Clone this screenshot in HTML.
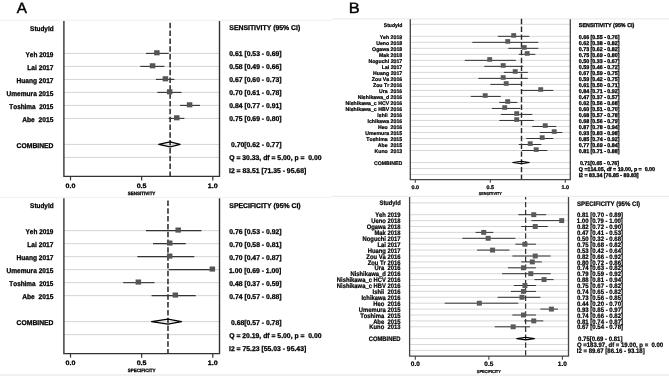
<!DOCTYPE html>
<html><head><meta charset="utf-8"><style>
html,body{margin:0;padding:0;background:#fff;}
svg{display:block;will-change:transform;}
text{font-family:"Liberation Sans",sans-serif;white-space:pre;font-kerning:none;font-variant-ligatures:none;text-rendering:geometricPrecision;}
text.b{font-weight:bold;}
text.r{font-weight:normal;}
</style></head><body>
<svg width="669" height="376" viewBox="0 0 669 376">
<rect x="0" y="0" width="669" height="376" fill="#fff"/>
<line x1="0.00" y1="20.30" x2="332.00" y2="20.30" stroke="#f0f0f0" stroke-width="1" />
<line x1="0.00" y1="197.40" x2="332.00" y2="197.40" stroke="#f0f0f0" stroke-width="1" />
<line x1="332.00" y1="18.80" x2="669.00" y2="18.80" stroke="#ececec" stroke-width="1.2" />
<line x1="332.00" y1="196.40" x2="669.00" y2="196.40" stroke="#ececec" stroke-width="1.2" />
<rect x="0" y="374" width="669" height="2" fill="#f1f1f1"/>
<text class="r" transform="translate(16.87,12.90) scale(0.30600,0.30200)" style="font-size:50px" fill="#000" stroke="#000" stroke-width="1.490">A</text>
<text class="r" transform="translate(348.75,12.80) scale(0.32800,0.30200)" style="font-size:50px" fill="#000" stroke="#000" stroke-width="1.490">B</text>
<line x1="63.90" y1="53.40" x2="219.50" y2="53.40" stroke="#d4d4d4" stroke-width="1.0" />
<line x1="63.90" y1="66.40" x2="219.50" y2="66.40" stroke="#d4d4d4" stroke-width="1.0" />
<line x1="63.90" y1="79.40" x2="219.50" y2="79.40" stroke="#d4d4d4" stroke-width="1.0" />
<line x1="63.90" y1="92.40" x2="219.50" y2="92.40" stroke="#d4d4d4" stroke-width="1.0" />
<line x1="63.90" y1="105.40" x2="219.50" y2="105.40" stroke="#d4d4d4" stroke-width="1.0" />
<line x1="63.90" y1="118.40" x2="219.50" y2="118.40" stroke="#d4d4d4" stroke-width="1.0" />
<line x1="63.90" y1="144.40" x2="219.50" y2="144.40" stroke="#d4d4d4" stroke-width="1.0" />
<line x1="63.90" y1="157.40" x2="219.50" y2="157.40" stroke="#d4d4d4" stroke-width="1.0" />
<line x1="170.11" y1="22.80" x2="170.11" y2="176.40" stroke="#262626" stroke-width="1.5" stroke-dasharray="5.5,2.32" stroke-dashoffset="0"/>
<line x1="145.92" y1="53.40" x2="168.69" y2="53.40" stroke="#333" stroke-width="1.1" />
<line x1="140.23" y1="66.40" x2="164.42" y2="66.40" stroke="#333" stroke-width="1.1" />
<line x1="155.88" y1="79.40" x2="174.38" y2="79.40" stroke="#333" stroke-width="1.1" />
<line x1="157.30" y1="92.40" x2="181.49" y2="92.40" stroke="#333" stroke-width="1.1" />
<line x1="180.07" y1="105.40" x2="199.99" y2="105.40" stroke="#333" stroke-width="1.1" />
<line x1="168.69" y1="118.40" x2="184.34" y2="118.40" stroke="#333" stroke-width="1.1" />
<rect x="154.10" y="50.25" width="5.5" height="5.1" fill="#555"/>
<rect x="149.83" y="63.25" width="5.5" height="5.1" fill="#555"/>
<rect x="162.64" y="76.25" width="5.5" height="5.1" fill="#555"/>
<rect x="166.91" y="89.25" width="5.5" height="5.1" fill="#555"/>
<rect x="186.83" y="102.25" width="5.5" height="5.1" fill="#555"/>
<rect x="174.03" y="115.25" width="5.5" height="5.1" fill="#555"/>
<polygon points="158.73,144.40 170.11,141.95 180.07,144.40 170.11,146.85" fill="none" stroke="#000" stroke-width="1.3" stroke-linejoin="round"/>
<path d="M63.9,21 V176.4 H219.5 V21" fill="none" stroke="#333" stroke-width="1.4"/>
<line x1="70.50" y1="176.40" x2="70.50" y2="180.40" stroke="#333" stroke-width="1.2" />
<text class="b" transform="translate(65.57,188.10) scale(0.14200,0.12800)" style="font-size:50px" fill="#000" stroke="#000" stroke-width="2.188">0.0</text>
<line x1="141.65" y1="176.40" x2="141.65" y2="180.40" stroke="#333" stroke-width="1.2" />
<text class="b" transform="translate(136.67,188.10) scale(0.14200,0.12800)" style="font-size:50px" fill="#000" stroke="#000" stroke-width="2.188">0.5</text>
<line x1="212.80" y1="176.40" x2="212.80" y2="180.40" stroke="#333" stroke-width="1.2" />
<text class="b" transform="translate(207.79,188.10) scale(0.14200,0.12800)" style="font-size:50px" fill="#000" stroke="#000" stroke-width="2.188">1.0</text>
<text class="b" transform="translate(127.87,194.80) scale(0.09000,0.09400)" style="font-size:50px" fill="#000" stroke="#000" stroke-width="2.979">SENSITIVITY</text>
<text class="b" transform="translate(30.12,30.50) scale(0.12823,0.14000)" style="font-size:50px" fill="#000" stroke="#000" stroke-width="2.000">StudyId</text>
<text class="b" transform="translate(25.59,56.50) scale(0.12844,0.14000)" style="font-size:50px" fill="#000" stroke="#000" stroke-width="2.000">Yeh 2019</text>
<text class="b" transform="translate(27.26,69.50) scale(0.13294,0.14000)" style="font-size:50px" fill="#000" stroke="#000" stroke-width="2.000">Lai 2017</text>
<text class="b" transform="translate(16.56,82.50) scale(0.13158,0.14000)" style="font-size:50px" fill="#000" stroke="#000" stroke-width="2.000">Huang 2017</text>
<text class="b" transform="translate(6.40,95.50) scale(0.13206,0.14000)" style="font-size:50px" fill="#000" stroke="#000" stroke-width="2.000">Umemura 2015</text>
<text class="b" transform="translate(9.33,108.50) scale(0.12783,0.14000)" style="font-size:50px" fill="#000" stroke="#000" stroke-width="2.000">Toshima  2015</text>
<text class="b" transform="translate(22.23,121.50) scale(0.13343,0.14000)" style="font-size:50px" fill="#000" stroke="#000" stroke-width="2.000">Abe  2015</text>
<text class="b" transform="translate(16.62,147.50) scale(0.13541,0.14000)" style="font-size:50px" fill="#000" stroke="#000" stroke-width="2.000">COMBINED</text>
<text class="b" transform="translate(229.30,30.35) scale(0.13727,0.14000)" style="font-size:50px" fill="#000" stroke="#000" stroke-width="2.000">SENSITIVITY (95% CI)</text>
<text class="b" transform="translate(229.23,56.35) scale(0.13640,0.14000)" style="font-size:50px" fill="#000" stroke="#000" stroke-width="2.000">0.61 [0.53 - 0.69]</text>
<text class="b" transform="translate(229.23,69.35) scale(0.13640,0.14000)" style="font-size:50px" fill="#000" stroke="#000" stroke-width="2.000">0.58 [0.49 - 0.66]</text>
<text class="b" transform="translate(229.23,82.35) scale(0.13640,0.14000)" style="font-size:50px" fill="#000" stroke="#000" stroke-width="2.000">0.67 [0.60 - 0.73]</text>
<text class="b" transform="translate(229.23,95.35) scale(0.13640,0.14000)" style="font-size:50px" fill="#000" stroke="#000" stroke-width="2.000">0.70 [0.61 - 0.78]</text>
<text class="b" transform="translate(229.23,108.35) scale(0.13640,0.14000)" style="font-size:50px" fill="#000" stroke="#000" stroke-width="2.000">0.84 [0.77 - 0.91]</text>
<text class="b" transform="translate(229.23,121.35) scale(0.13640,0.14000)" style="font-size:50px" fill="#000" stroke="#000" stroke-width="2.000">0.75 [0.69 - 0.80]</text>
<text class="b" transform="translate(231.03,147.35) scale(0.13640,0.14000)" style="font-size:50px" fill="#000" stroke="#000" stroke-width="2.000">0.70[0.62 - 0.77]</text>
<text class="b" transform="translate(229.22,160.35) scale(0.13640,0.14000)" style="font-size:50px" fill="#000" stroke="#000" stroke-width="2.000">Q = 30.33, df = 5.00, p =  0.00</text>
<text class="b" transform="translate(229.04,173.35) scale(0.13640,0.14000)" style="font-size:50px" fill="#000" stroke="#000" stroke-width="2.000">I2 = 83.51 [71.35 - 95.68]</text>
<line x1="63.90" y1="230.65" x2="219.50" y2="230.65" stroke="#d4d4d4" stroke-width="1.0" />
<line x1="63.90" y1="243.65" x2="219.50" y2="243.65" stroke="#d4d4d4" stroke-width="1.0" />
<line x1="63.90" y1="256.65" x2="219.50" y2="256.65" stroke="#d4d4d4" stroke-width="1.0" />
<line x1="63.90" y1="269.65" x2="219.50" y2="269.65" stroke="#d4d4d4" stroke-width="1.0" />
<line x1="63.90" y1="282.65" x2="219.50" y2="282.65" stroke="#d4d4d4" stroke-width="1.0" />
<line x1="63.90" y1="295.65" x2="219.50" y2="295.65" stroke="#d4d4d4" stroke-width="1.0" />
<line x1="63.90" y1="321.65" x2="219.50" y2="321.65" stroke="#d4d4d4" stroke-width="1.0" />
<line x1="63.90" y1="334.65" x2="219.50" y2="334.65" stroke="#d4d4d4" stroke-width="1.0" />
<line x1="167.98" y1="200.45" x2="167.98" y2="353.65" stroke="#262626" stroke-width="1.5" stroke-dasharray="5.5,2.32" stroke-dashoffset="0"/>
<line x1="145.92" y1="230.65" x2="201.42" y2="230.65" stroke="#333" stroke-width="1.1" />
<line x1="153.03" y1="243.65" x2="185.76" y2="243.65" stroke="#333" stroke-width="1.1" />
<line x1="137.38" y1="256.65" x2="194.30" y2="256.65" stroke="#333" stroke-width="1.1" />
<line x1="168.69" y1="269.65" x2="212.80" y2="269.65" stroke="#333" stroke-width="1.1" />
<line x1="123.15" y1="282.65" x2="154.46" y2="282.65" stroke="#333" stroke-width="1.1" />
<line x1="151.61" y1="295.65" x2="195.72" y2="295.65" stroke="#333" stroke-width="1.1" />
<rect x="175.45" y="227.50" width="5.5" height="5.1" fill="#555"/>
<rect x="166.91" y="240.50" width="5.5" height="5.1" fill="#555"/>
<rect x="166.91" y="253.50" width="5.5" height="5.1" fill="#555"/>
<rect x="209.60" y="266.50" width="5.5" height="5.1" fill="#555"/>
<rect x="135.60" y="279.50" width="5.5" height="5.1" fill="#555"/>
<rect x="172.60" y="292.50" width="5.5" height="5.1" fill="#555"/>
<polygon points="151.61,321.65 167.98,319.20 181.49,321.65 167.98,324.10" fill="none" stroke="#000" stroke-width="1.3" stroke-linejoin="round"/>
<path d="M63.9,198.25 V353.65 H219.5 V198.25" fill="none" stroke="#333" stroke-width="1.4"/>
<line x1="70.50" y1="353.65" x2="70.50" y2="357.65" stroke="#333" stroke-width="1.2" />
<text class="b" transform="translate(65.57,365.35) scale(0.14200,0.12800)" style="font-size:50px" fill="#000" stroke="#000" stroke-width="2.188">0.0</text>
<line x1="141.65" y1="353.65" x2="141.65" y2="357.65" stroke="#333" stroke-width="1.2" />
<text class="b" transform="translate(136.67,365.35) scale(0.14200,0.12800)" style="font-size:50px" fill="#000" stroke="#000" stroke-width="2.188">0.5</text>
<line x1="212.80" y1="353.65" x2="212.80" y2="357.65" stroke="#333" stroke-width="1.2" />
<text class="b" transform="translate(207.79,365.35) scale(0.14200,0.12800)" style="font-size:50px" fill="#000" stroke="#000" stroke-width="2.188">1.0</text>
<text class="b" transform="translate(127.74,372.05) scale(0.09000,0.09400)" style="font-size:50px" fill="#000" stroke="#000" stroke-width="2.979">SPECIFICITY</text>
<text class="b" transform="translate(30.12,207.75) scale(0.12823,0.14000)" style="font-size:50px" fill="#000" stroke="#000" stroke-width="2.000">StudyId</text>
<text class="b" transform="translate(25.59,233.75) scale(0.12844,0.14000)" style="font-size:50px" fill="#000" stroke="#000" stroke-width="2.000">Yeh 2019</text>
<text class="b" transform="translate(27.26,246.75) scale(0.13294,0.14000)" style="font-size:50px" fill="#000" stroke="#000" stroke-width="2.000">Lai 2017</text>
<text class="b" transform="translate(16.56,259.75) scale(0.13158,0.14000)" style="font-size:50px" fill="#000" stroke="#000" stroke-width="2.000">Huang 2017</text>
<text class="b" transform="translate(6.40,272.75) scale(0.13206,0.14000)" style="font-size:50px" fill="#000" stroke="#000" stroke-width="2.000">Umemura 2015</text>
<text class="b" transform="translate(9.33,285.75) scale(0.12783,0.14000)" style="font-size:50px" fill="#000" stroke="#000" stroke-width="2.000">Toshima  2015</text>
<text class="b" transform="translate(22.23,298.75) scale(0.13343,0.14000)" style="font-size:50px" fill="#000" stroke="#000" stroke-width="2.000">Abe  2015</text>
<text class="b" transform="translate(16.62,324.75) scale(0.13541,0.14000)" style="font-size:50px" fill="#000" stroke="#000" stroke-width="2.000">COMBINED</text>
<text class="b" transform="translate(229.30,207.60) scale(0.13732,0.14000)" style="font-size:50px" fill="#000" stroke="#000" stroke-width="2.000">SPECIFICITY (95% CI)</text>
<text class="b" transform="translate(229.23,233.60) scale(0.13640,0.14000)" style="font-size:50px" fill="#000" stroke="#000" stroke-width="2.000">0.76 [0.53 - 0.92]</text>
<text class="b" transform="translate(229.23,246.60) scale(0.13640,0.14000)" style="font-size:50px" fill="#000" stroke="#000" stroke-width="2.000">0.70 [0.58 - 0.81]</text>
<text class="b" transform="translate(229.23,259.60) scale(0.13640,0.14000)" style="font-size:50px" fill="#000" stroke="#000" stroke-width="2.000">0.70 [0.47 - 0.87]</text>
<text class="b" transform="translate(229.07,272.60) scale(0.13640,0.14000)" style="font-size:50px" fill="#000" stroke="#000" stroke-width="2.000">1.00 [0.69 - 1.00]</text>
<text class="b" transform="translate(229.23,285.60) scale(0.13640,0.14000)" style="font-size:50px" fill="#000" stroke="#000" stroke-width="2.000">0.48 [0.37 - 0.59]</text>
<text class="b" transform="translate(229.23,298.60) scale(0.13640,0.14000)" style="font-size:50px" fill="#000" stroke="#000" stroke-width="2.000">0.74 [0.57 - 0.88]</text>
<text class="b" transform="translate(231.03,324.60) scale(0.13640,0.14000)" style="font-size:50px" fill="#000" stroke="#000" stroke-width="2.000">0.68[0.57 - 0.78]</text>
<text class="b" transform="translate(229.22,337.60) scale(0.13640,0.14000)" style="font-size:50px" fill="#000" stroke="#000" stroke-width="2.000">Q = 20.19, df = 5.00, p =  0.00</text>
<text class="b" transform="translate(229.04,350.60) scale(0.13640,0.14000)" style="font-size:50px" fill="#000" stroke="#000" stroke-width="2.000">I2 = 75.23 [55.03 - 95.43]</text>
<line x1="410.30" y1="24.30" x2="570.30" y2="24.30" stroke="#d4d4d4" stroke-width="0.9" />
<line x1="410.30" y1="36.32" x2="570.30" y2="36.32" stroke="#d4d4d4" stroke-width="0.9" />
<line x1="410.30" y1="42.33" x2="570.30" y2="42.33" stroke="#d4d4d4" stroke-width="0.9" />
<line x1="410.30" y1="48.34" x2="570.30" y2="48.34" stroke="#d4d4d4" stroke-width="0.9" />
<line x1="410.30" y1="54.35" x2="570.30" y2="54.35" stroke="#d4d4d4" stroke-width="0.9" />
<line x1="410.30" y1="60.36" x2="570.30" y2="60.36" stroke="#d4d4d4" stroke-width="0.9" />
<line x1="410.30" y1="66.37" x2="570.30" y2="66.37" stroke="#d4d4d4" stroke-width="0.9" />
<line x1="410.30" y1="72.38" x2="570.30" y2="72.38" stroke="#d4d4d4" stroke-width="0.9" />
<line x1="410.30" y1="78.39" x2="570.30" y2="78.39" stroke="#d4d4d4" stroke-width="0.9" />
<line x1="410.30" y1="84.40" x2="570.30" y2="84.40" stroke="#d4d4d4" stroke-width="0.9" />
<line x1="410.30" y1="90.41" x2="570.30" y2="90.41" stroke="#d4d4d4" stroke-width="0.9" />
<line x1="410.30" y1="96.42" x2="570.30" y2="96.42" stroke="#d4d4d4" stroke-width="0.9" />
<line x1="410.30" y1="102.43" x2="570.30" y2="102.43" stroke="#d4d4d4" stroke-width="0.9" />
<line x1="410.30" y1="108.44" x2="570.30" y2="108.44" stroke="#d4d4d4" stroke-width="0.9" />
<line x1="410.30" y1="114.45" x2="570.30" y2="114.45" stroke="#d4d4d4" stroke-width="0.9" />
<line x1="410.30" y1="120.46" x2="570.30" y2="120.46" stroke="#d4d4d4" stroke-width="0.9" />
<line x1="410.30" y1="126.47" x2="570.30" y2="126.47" stroke="#d4d4d4" stroke-width="0.9" />
<line x1="410.30" y1="132.48" x2="570.30" y2="132.48" stroke="#d4d4d4" stroke-width="0.9" />
<line x1="410.30" y1="138.49" x2="570.30" y2="138.49" stroke="#d4d4d4" stroke-width="0.9" />
<line x1="410.30" y1="144.50" x2="570.30" y2="144.50" stroke="#d4d4d4" stroke-width="0.9" />
<line x1="410.30" y1="150.51" x2="570.30" y2="150.51" stroke="#d4d4d4" stroke-width="0.9" />
<line x1="410.30" y1="162.53" x2="570.30" y2="162.53" stroke="#d4d4d4" stroke-width="0.9" />
<line x1="410.30" y1="168.54" x2="570.30" y2="168.54" stroke="#d4d4d4" stroke-width="0.9" />
<line x1="410.30" y1="174.55" x2="570.30" y2="174.55" stroke="#d4d4d4" stroke-width="0.9" />
<line x1="521.50" y1="18.80" x2="521.50" y2="179.60" stroke="#262626" stroke-width="1.4" stroke-dasharray="5.35,2.45" stroke-dashoffset="0"/>
<line x1="497.80" y1="36.32" x2="529.30" y2="36.32" stroke="#333" stroke-width="1.0" />
<line x1="472.30" y1="42.33" x2="538.30" y2="42.33" stroke="#333" stroke-width="1.0" />
<line x1="508.30" y1="48.34" x2="538.30" y2="48.34" stroke="#333" stroke-width="1.0" />
<line x1="518.80" y1="54.35" x2="535.30" y2="54.35" stroke="#333" stroke-width="1.0" />
<line x1="464.80" y1="60.36" x2="515.80" y2="60.36" stroke="#333" stroke-width="1.0" />
<line x1="484.30" y1="66.37" x2="523.30" y2="66.37" stroke="#333" stroke-width="1.0" />
<line x1="503.80" y1="72.38" x2="527.80" y2="72.38" stroke="#333" stroke-width="1.0" />
<line x1="478.30" y1="78.39" x2="527.80" y2="78.39" stroke="#333" stroke-width="1.0" />
<line x1="490.30" y1="84.40" x2="521.80" y2="84.40" stroke="#333" stroke-width="1.0" />
<line x1="521.80" y1="90.41" x2="553.30" y2="90.41" stroke="#333" stroke-width="1.0" />
<line x1="470.80" y1="96.42" x2="500.80" y2="96.42" stroke="#333" stroke-width="1.0" />
<line x1="499.30" y1="102.43" x2="517.30" y2="102.43" stroke="#333" stroke-width="1.0" />
<line x1="491.80" y1="108.44" x2="520.30" y2="108.44" stroke="#333" stroke-width="1.0" />
<line x1="500.80" y1="114.45" x2="532.30" y2="114.45" stroke="#333" stroke-width="1.0" />
<line x1="499.30" y1="120.46" x2="533.80" y2="120.46" stroke="#333" stroke-width="1.0" />
<line x1="532.30" y1="126.47" x2="556.30" y2="126.47" stroke="#333" stroke-width="1.0" />
<line x1="539.80" y1="132.48" x2="562.30" y2="132.48" stroke="#333" stroke-width="1.0" />
<line x1="526.30" y1="138.49" x2="553.30" y2="138.49" stroke="#333" stroke-width="1.0" />
<line x1="518.80" y1="144.50" x2="541.30" y2="144.50" stroke="#333" stroke-width="1.0" />
<line x1="521.80" y1="150.51" x2="547.30" y2="150.51" stroke="#333" stroke-width="1.0" />
<rect x="511.25" y="33.12" width="4.9" height="4.6" fill="#5a5a5a"/>
<rect x="505.25" y="39.13" width="4.9" height="4.6" fill="#5a5a5a"/>
<rect x="521.75" y="45.14" width="4.9" height="4.6" fill="#5a5a5a"/>
<rect x="524.75" y="51.15" width="4.9" height="4.6" fill="#5a5a5a"/>
<rect x="487.25" y="57.16" width="4.9" height="4.6" fill="#5a5a5a"/>
<rect x="500.75" y="63.17" width="4.9" height="4.6" fill="#5a5a5a"/>
<rect x="512.75" y="69.18" width="4.9" height="4.6" fill="#5a5a5a"/>
<rect x="500.75" y="75.19" width="4.9" height="4.6" fill="#5a5a5a"/>
<rect x="503.75" y="81.20" width="4.9" height="4.6" fill="#5a5a5a"/>
<rect x="538.25" y="87.21" width="4.9" height="4.6" fill="#5a5a5a"/>
<rect x="482.75" y="93.22" width="4.9" height="4.6" fill="#5a5a5a"/>
<rect x="505.25" y="99.23" width="4.9" height="4.6" fill="#5a5a5a"/>
<rect x="502.25" y="105.24" width="4.9" height="4.6" fill="#5a5a5a"/>
<rect x="514.25" y="111.25" width="4.9" height="4.6" fill="#5a5a5a"/>
<rect x="514.25" y="117.26" width="4.9" height="4.6" fill="#5a5a5a"/>
<rect x="542.75" y="123.27" width="4.9" height="4.6" fill="#5a5a5a"/>
<rect x="551.75" y="129.28" width="4.9" height="4.6" fill="#5a5a5a"/>
<rect x="539.75" y="135.29" width="4.9" height="4.6" fill="#5a5a5a"/>
<rect x="527.75" y="141.30" width="4.9" height="4.6" fill="#5a5a5a"/>
<rect x="533.75" y="147.31" width="4.9" height="4.6" fill="#5a5a5a"/>
<polygon points="512.80,162.53 521.50,161.23 529.30,162.53 521.50,163.83" fill="none" stroke="#000" stroke-width="1.1" stroke-linejoin="round"/>
<path d="M410.3,19.2 V179.6 H570.3 V19.2" fill="none" stroke="#454545" stroke-width="1.3"/>
<line x1="415.30" y1="179.60" x2="415.30" y2="182.80" stroke="#454545" stroke-width="1.1" />
<text class="b" transform="translate(411.55,188.90) scale(0.10800,0.10600)" style="font-size:50px" fill="#000" stroke="#000" stroke-width="2.075">0.0</text>
<line x1="490.30" y1="179.60" x2="490.30" y2="182.80" stroke="#454545" stroke-width="1.1" />
<text class="b" transform="translate(486.51,188.90) scale(0.10800,0.10600)" style="font-size:50px" fill="#000" stroke="#000" stroke-width="2.075">0.5</text>
<line x1="565.30" y1="179.60" x2="565.30" y2="182.80" stroke="#454545" stroke-width="1.1" />
<text class="b" transform="translate(561.49,188.90) scale(0.10800,0.10600)" style="font-size:50px" fill="#000" stroke="#000" stroke-width="2.075">1.0</text>
<text class="b" transform="translate(478.78,195.00) scale(0.07520,0.08600)" style="font-size:50px" fill="#000" stroke="#000" stroke-width="2.558">SENSITIVITY</text>
<text class="b" transform="translate(383.75,26.80) scale(0.10135,0.10600)" style="font-size:50px" fill="#000" stroke="#000" stroke-width="2.075">StudyId</text>
<text class="b" transform="translate(379.64,38.82) scale(0.10400,0.10600)" style="font-size:50px" fill="#000" stroke="#000" stroke-width="2.075">Yeh 2019</text>
<text class="b" transform="translate(376.15,44.83) scale(0.10400,0.10600)" style="font-size:50px" fill="#000" stroke="#000" stroke-width="2.075">Ueno 2018</text>
<text class="b" transform="translate(372.10,50.84) scale(0.10400,0.10600)" style="font-size:50px" fill="#000" stroke="#000" stroke-width="2.075">Ogawa 2018</text>
<text class="b" transform="translate(379.03,56.85) scale(0.10400,0.10600)" style="font-size:50px" fill="#000" stroke="#000" stroke-width="2.075">Mak 2018</text>
<text class="b" transform="translate(368.42,62.86) scale(0.10400,0.10600)" style="font-size:50px" fill="#000" stroke="#000" stroke-width="2.075">Noguchi 2017</text>
<text class="b" transform="translate(381.70,68.87) scale(0.10400,0.10600)" style="font-size:50px" fill="#000" stroke="#000" stroke-width="2.075">Lai 2017</text>
<text class="b" transform="translate(373.04,74.88) scale(0.10400,0.10600)" style="font-size:50px" fill="#000" stroke="#000" stroke-width="2.075">Huang 2017</text>
<text class="b" transform="translate(371.84,80.89) scale(0.10400,0.10600)" style="font-size:50px" fill="#000" stroke="#000" stroke-width="2.075">Zou Va 2016</text>
<text class="b" transform="translate(373.00,86.90) scale(0.10400,0.10600)" style="font-size:50px" fill="#000" stroke="#000" stroke-width="2.075">Zou Tr 2016</text>
<text class="b" transform="translate(379.06,92.91) scale(0.10400,0.10600)" style="font-size:50px" fill="#000" stroke="#000" stroke-width="2.075">Ura  2016</text>
<text class="b" transform="translate(357.67,98.92) scale(0.10400,0.10600)" style="font-size:50px" fill="#000" stroke="#000" stroke-width="2.075">Nishikawa_d 2016</text>
<text class="b" transform="translate(345.53,104.93) scale(0.10400,0.10600)" style="font-size:50px" fill="#000" stroke="#000" stroke-width="2.075">Nishikawa_c HCV 2016</text>
<text class="b" transform="translate(345.53,110.94) scale(0.10400,0.10600)" style="font-size:50px" fill="#000" stroke="#000" stroke-width="2.075">Nishikawa_c HBV 2016</text>
<text class="b" transform="translate(377.33,116.95) scale(0.10400,0.10600)" style="font-size:50px" fill="#000" stroke="#000" stroke-width="2.075">Ishii  2016</text>
<text class="b" transform="translate(367.50,122.96) scale(0.10400,0.10600)" style="font-size:50px" fill="#000" stroke="#000" stroke-width="2.075">Ichikawa 2016</text>
<text class="b" transform="translate(377.91,128.97) scale(0.10400,0.10600)" style="font-size:50px" fill="#000" stroke="#000" stroke-width="2.075">Heo  2016</text>
<text class="b" transform="translate(365.15,134.98) scale(0.10400,0.10600)" style="font-size:50px" fill="#000" stroke="#000" stroke-width="2.075">Umemura 2015</text>
<text class="b" transform="translate(366.31,140.99) scale(0.10400,0.10600)" style="font-size:50px" fill="#000" stroke="#000" stroke-width="2.075">Toshima  2015</text>
<text class="b" transform="translate(377.86,147.00) scale(0.10400,0.10600)" style="font-size:50px" fill="#000" stroke="#000" stroke-width="2.075">Abe  2015</text>
<text class="b" transform="translate(374.45,153.01) scale(0.10400,0.10600)" style="font-size:50px" fill="#000" stroke="#000" stroke-width="2.075">Kuno  2013</text>
<text class="b" transform="translate(373.91,165.03) scale(0.10400,0.10600)" style="font-size:50px" fill="#000" stroke="#000" stroke-width="2.075">COMBINED</text>
<text class="b" transform="translate(578.85,27.10) scale(0.10725,0.11200)" style="font-size:50px" fill="#000" stroke="#000" stroke-width="2.679">SENSITIVITY (95% CI)</text>
<text class="b" transform="translate(578.79,39.12) scale(0.10600,0.11000)" style="font-size:50px" fill="#000" stroke="#000" stroke-width="2.727">0.66 [0.55 - 0.76]</text>
<text class="b" transform="translate(578.79,45.13) scale(0.10600,0.11000)" style="font-size:50px" fill="#000" stroke="#000" stroke-width="2.727">0.62 [0.38 - 0.82]</text>
<text class="b" transform="translate(578.79,51.14) scale(0.10600,0.11000)" style="font-size:50px" fill="#000" stroke="#000" stroke-width="2.727">0.73 [0.62 - 0.82]</text>
<text class="b" transform="translate(578.79,57.15) scale(0.10600,0.11000)" style="font-size:50px" fill="#000" stroke="#000" stroke-width="2.727">0.75 [0.69 - 0.80]</text>
<text class="b" transform="translate(578.79,63.16) scale(0.10600,0.11000)" style="font-size:50px" fill="#000" stroke="#000" stroke-width="2.727">0.50 [0.33 - 0.67]</text>
<text class="b" transform="translate(578.79,69.17) scale(0.10600,0.11000)" style="font-size:50px" fill="#000" stroke="#000" stroke-width="2.727">0.59 [0.46 - 0.72]</text>
<text class="b" transform="translate(578.79,75.18) scale(0.10600,0.11000)" style="font-size:50px" fill="#000" stroke="#000" stroke-width="2.727">0.67 [0.59 - 0.75]</text>
<text class="b" transform="translate(578.79,81.19) scale(0.10600,0.11000)" style="font-size:50px" fill="#000" stroke="#000" stroke-width="2.727">0.59 [0.42 - 0.75]</text>
<text class="b" transform="translate(578.79,87.20) scale(0.10600,0.11000)" style="font-size:50px" fill="#000" stroke="#000" stroke-width="2.727">0.61 [0.50 - 0.71]</text>
<text class="b" transform="translate(578.79,93.21) scale(0.10600,0.11000)" style="font-size:50px" fill="#000" stroke="#000" stroke-width="2.727">0.84 [0.71 - 0.92]</text>
<text class="b" transform="translate(578.79,99.22) scale(0.10600,0.11000)" style="font-size:50px" fill="#000" stroke="#000" stroke-width="2.727">0.47 [0.37 - 0.57]</text>
<text class="b" transform="translate(578.79,105.23) scale(0.10600,0.11000)" style="font-size:50px" fill="#000" stroke="#000" stroke-width="2.727">0.62 [0.56 - 0.68]</text>
<text class="b" transform="translate(578.79,111.24) scale(0.10600,0.11000)" style="font-size:50px" fill="#000" stroke="#000" stroke-width="2.727">0.60 [0.51 - 0.70]</text>
<text class="b" transform="translate(578.79,117.25) scale(0.10600,0.11000)" style="font-size:50px" fill="#000" stroke="#000" stroke-width="2.727">0.68 [0.57 - 0.78]</text>
<text class="b" transform="translate(578.79,123.26) scale(0.10600,0.11000)" style="font-size:50px" fill="#000" stroke="#000" stroke-width="2.727">0.68 [0.56 - 0.79]</text>
<text class="b" transform="translate(578.79,129.27) scale(0.10600,0.11000)" style="font-size:50px" fill="#000" stroke="#000" stroke-width="2.727">0.87 [0.78 - 0.94]</text>
<text class="b" transform="translate(578.79,135.28) scale(0.10600,0.11000)" style="font-size:50px" fill="#000" stroke="#000" stroke-width="2.727">0.93 [0.83 - 0.98]</text>
<text class="b" transform="translate(578.79,141.29) scale(0.10600,0.11000)" style="font-size:50px" fill="#000" stroke="#000" stroke-width="2.727">0.85 [0.74 - 0.92]</text>
<text class="b" transform="translate(578.79,147.30) scale(0.10600,0.11000)" style="font-size:50px" fill="#000" stroke="#000" stroke-width="2.727">0.77 [0.69 - 0.84]</text>
<text class="b" transform="translate(578.79,153.31) scale(0.10600,0.11000)" style="font-size:50px" fill="#000" stroke="#000" stroke-width="2.727">0.81 [0.71 - 0.88]</text>
<text class="b" transform="translate(579.89,165.33) scale(0.10600,0.11000)" style="font-size:50px" fill="#000" stroke="#000" stroke-width="2.727">0.71[0.65 - 0.76]</text>
<text class="b" transform="translate(578.78,171.34) scale(0.10600,0.11000)" style="font-size:50px" fill="#000" stroke="#000" stroke-width="2.727">Q =114.05, df = 19.00, p =  0.00</text>
<text class="b" transform="translate(578.65,177.35) scale(0.10600,0.11000)" style="font-size:50px" fill="#000" stroke="#000" stroke-width="2.727">I2 = 83.34 [76.85 - 89.83]</text>
<line x1="409.60" y1="202.90" x2="568.50" y2="202.90" stroke="#d4d4d4" stroke-width="0.9" />
<line x1="409.60" y1="214.70" x2="568.50" y2="214.70" stroke="#d4d4d4" stroke-width="0.9" />
<line x1="409.60" y1="220.60" x2="568.50" y2="220.60" stroke="#d4d4d4" stroke-width="0.9" />
<line x1="409.60" y1="226.50" x2="568.50" y2="226.50" stroke="#d4d4d4" stroke-width="0.9" />
<line x1="409.60" y1="232.40" x2="568.50" y2="232.40" stroke="#d4d4d4" stroke-width="0.9" />
<line x1="409.60" y1="238.30" x2="568.50" y2="238.30" stroke="#d4d4d4" stroke-width="0.9" />
<line x1="409.60" y1="244.20" x2="568.50" y2="244.20" stroke="#d4d4d4" stroke-width="0.9" />
<line x1="409.60" y1="250.10" x2="568.50" y2="250.10" stroke="#d4d4d4" stroke-width="0.9" />
<line x1="409.60" y1="256.00" x2="568.50" y2="256.00" stroke="#d4d4d4" stroke-width="0.9" />
<line x1="409.60" y1="261.90" x2="568.50" y2="261.90" stroke="#d4d4d4" stroke-width="0.9" />
<line x1="409.60" y1="267.80" x2="568.50" y2="267.80" stroke="#d4d4d4" stroke-width="0.9" />
<line x1="409.60" y1="273.70" x2="568.50" y2="273.70" stroke="#d4d4d4" stroke-width="0.9" />
<line x1="409.60" y1="279.60" x2="568.50" y2="279.60" stroke="#d4d4d4" stroke-width="0.9" />
<line x1="409.60" y1="285.50" x2="568.50" y2="285.50" stroke="#d4d4d4" stroke-width="0.9" />
<line x1="409.60" y1="291.40" x2="568.50" y2="291.40" stroke="#d4d4d4" stroke-width="0.9" />
<line x1="409.60" y1="297.30" x2="568.50" y2="297.30" stroke="#d4d4d4" stroke-width="0.9" />
<line x1="409.60" y1="303.20" x2="568.50" y2="303.20" stroke="#d4d4d4" stroke-width="0.9" />
<line x1="409.60" y1="309.10" x2="568.50" y2="309.10" stroke="#d4d4d4" stroke-width="0.9" />
<line x1="409.60" y1="315.00" x2="568.50" y2="315.00" stroke="#d4d4d4" stroke-width="0.9" />
<line x1="409.60" y1="320.90" x2="568.50" y2="320.90" stroke="#d4d4d4" stroke-width="0.9" />
<line x1="409.60" y1="326.80" x2="568.50" y2="326.80" stroke="#d4d4d4" stroke-width="0.9" />
<line x1="409.60" y1="338.60" x2="568.50" y2="338.60" stroke="#d4d4d4" stroke-width="0.9" />
<line x1="409.60" y1="344.50" x2="568.50" y2="344.50" stroke="#d4d4d4" stroke-width="0.9" />
<line x1="409.60" y1="350.40" x2="568.50" y2="350.40" stroke="#d4d4d4" stroke-width="0.9" />
<line x1="525.62" y1="197.00" x2="525.62" y2="356.10" stroke="#333" stroke-width="1.25" stroke-dasharray="5.3,2.5" stroke-dashoffset="2.8"/>
<line x1="518.27" y1="214.70" x2="546.22" y2="214.70" stroke="#333" stroke-width="1.0" />
<line x1="531.51" y1="220.60" x2="562.40" y2="220.60" stroke="#333" stroke-width="1.0" />
<line x1="521.21" y1="226.50" x2="547.69" y2="226.50" stroke="#333" stroke-width="1.0" />
<line x1="475.61" y1="232.40" x2="493.26" y2="232.40" stroke="#333" stroke-width="1.0" />
<line x1="462.37" y1="238.30" x2="515.33" y2="238.30" stroke="#333" stroke-width="1.0" />
<line x1="515.33" y1="244.20" x2="535.92" y2="244.20" stroke="#333" stroke-width="1.0" />
<line x1="477.08" y1="250.10" x2="509.44" y2="250.10" stroke="#333" stroke-width="1.0" />
<line x1="512.39" y1="256.00" x2="550.63" y2="256.00" stroke="#333" stroke-width="1.0" />
<line x1="521.21" y1="261.90" x2="541.81" y2="261.90" stroke="#333" stroke-width="1.0" />
<line x1="507.97" y1="267.80" x2="535.92" y2="267.80" stroke="#333" stroke-width="1.0" />
<line x1="502.09" y1="273.70" x2="550.63" y2="273.70" stroke="#333" stroke-width="1.0" />
<line x1="534.45" y1="279.60" x2="553.57" y2="279.60" stroke="#333" stroke-width="1.0" />
<line x1="513.86" y1="285.50" x2="535.92" y2="285.50" stroke="#333" stroke-width="1.0" />
<line x1="510.91" y1="291.40" x2="535.92" y2="291.40" stroke="#333" stroke-width="1.0" />
<line x1="497.68" y1="297.30" x2="540.34" y2="297.30" stroke="#333" stroke-width="1.0" />
<line x1="444.72" y1="303.20" x2="518.27" y2="303.20" stroke="#333" stroke-width="1.0" />
<line x1="540.34" y1="309.10" x2="557.99" y2="309.10" stroke="#333" stroke-width="1.0" />
<line x1="512.39" y1="315.00" x2="535.92" y2="315.00" stroke="#333" stroke-width="1.0" />
<line x1="524.15" y1="320.90" x2="543.28" y2="320.90" stroke="#333" stroke-width="1.0" />
<line x1="494.73" y1="326.80" x2="530.04" y2="326.80" stroke="#333" stroke-width="1.0" />
<rect x="531.25" y="212.25" width="5.0" height="4.9" fill="#5a5a5a"/>
<rect x="559.20" y="218.15" width="5.0" height="4.9" fill="#5a5a5a"/>
<rect x="532.72" y="224.05" width="5.0" height="4.9" fill="#5a5a5a"/>
<rect x="481.24" y="229.95" width="5.0" height="4.9" fill="#5a5a5a"/>
<rect x="485.65" y="235.85" width="5.0" height="4.9" fill="#5a5a5a"/>
<rect x="522.42" y="241.75" width="5.0" height="4.9" fill="#5a5a5a"/>
<rect x="490.06" y="247.65" width="5.0" height="4.9" fill="#5a5a5a"/>
<rect x="532.72" y="253.55" width="5.0" height="4.9" fill="#5a5a5a"/>
<rect x="529.78" y="259.45" width="5.0" height="4.9" fill="#5a5a5a"/>
<rect x="520.95" y="265.35" width="5.0" height="4.9" fill="#5a5a5a"/>
<rect x="528.31" y="271.25" width="5.0" height="4.9" fill="#5a5a5a"/>
<rect x="541.55" y="277.15" width="5.0" height="4.9" fill="#5a5a5a"/>
<rect x="522.42" y="283.05" width="5.0" height="4.9" fill="#5a5a5a"/>
<rect x="520.95" y="288.95" width="5.0" height="4.9" fill="#5a5a5a"/>
<rect x="519.48" y="294.85" width="5.0" height="4.9" fill="#5a5a5a"/>
<rect x="476.82" y="300.75" width="5.0" height="4.9" fill="#5a5a5a"/>
<rect x="548.90" y="306.65" width="5.0" height="4.9" fill="#5a5a5a"/>
<rect x="520.95" y="312.55" width="5.0" height="4.9" fill="#5a5a5a"/>
<rect x="531.25" y="318.45" width="5.0" height="4.9" fill="#5a5a5a"/>
<rect x="510.66" y="324.35" width="5.0" height="4.9" fill="#5a5a5a"/>
<polygon points="516.80,338.60 525.62,337.30 534.45,338.60 525.62,339.90" fill="none" stroke="#000" stroke-width="1.1" stroke-linejoin="round"/>
<path d="M409.6,197.0 V356.1 H568.5 V197.0" fill="none" stroke="#454545" stroke-width="1.3"/>
<line x1="415.30" y1="356.10" x2="415.30" y2="359.70" stroke="#454545" stroke-width="1.1" />
<text class="b" transform="translate(410.79,366.30) scale(0.13000,0.12600)" style="font-size:50px" fill="#000" stroke="#000" stroke-width="1.746">0.0</text>
<line x1="488.85" y1="356.10" x2="488.85" y2="359.70" stroke="#454545" stroke-width="1.1" />
<text class="b" transform="translate(484.29,366.30) scale(0.13000,0.12600)" style="font-size:50px" fill="#000" stroke="#000" stroke-width="1.746">0.5</text>
<line x1="562.40" y1="356.10" x2="562.40" y2="359.70" stroke="#454545" stroke-width="1.1" />
<text class="b" transform="translate(557.81,366.30) scale(0.13000,0.12600)" style="font-size:50px" fill="#000" stroke="#000" stroke-width="1.746">1.0</text>
<text class="b" transform="translate(476.80,372.90) scale(0.07800,0.08600)" style="font-size:50px" fill="#000" stroke="#000" stroke-width="2.558">SPECIFICITY</text>
<text class="b" transform="translate(379.53,205.30) scale(0.11535,0.13200)" style="font-size:50px" fill="#000" stroke="#000" stroke-width="1.667">StudyId</text>
<text class="b" transform="translate(375.15,217.30) scale(0.11700,0.13200)" style="font-size:50px" fill="#000" stroke="#000" stroke-width="1.667">Yeh 2019</text>
<text class="b" transform="translate(371.22,223.20) scale(0.11700,0.13200)" style="font-size:50px" fill="#000" stroke="#000" stroke-width="1.667">Ueno 2018</text>
<text class="b" transform="translate(366.66,229.10) scale(0.11700,0.13200)" style="font-size:50px" fill="#000" stroke="#000" stroke-width="1.667">Ogawa 2018</text>
<text class="b" transform="translate(374.46,235.00) scale(0.11700,0.13200)" style="font-size:50px" fill="#000" stroke="#000" stroke-width="1.667">Mak 2018</text>
<text class="b" transform="translate(362.52,240.90) scale(0.11700,0.13200)" style="font-size:50px" fill="#000" stroke="#000" stroke-width="1.667">Noguchi 2017</text>
<text class="b" transform="translate(377.47,246.80) scale(0.11700,0.13200)" style="font-size:50px" fill="#000" stroke="#000" stroke-width="1.667">Lai 2017</text>
<text class="b" transform="translate(367.72,252.70) scale(0.11700,0.13200)" style="font-size:50px" fill="#000" stroke="#000" stroke-width="1.667">Huang 2017</text>
<text class="b" transform="translate(366.37,258.60) scale(0.11700,0.13200)" style="font-size:50px" fill="#000" stroke="#000" stroke-width="1.667">Zou Va 2016</text>
<text class="b" transform="translate(367.68,264.50) scale(0.11700,0.13200)" style="font-size:50px" fill="#000" stroke="#000" stroke-width="1.667">Zou Tr 2016</text>
<text class="b" transform="translate(374.49,270.40) scale(0.11700,0.13200)" style="font-size:50px" fill="#000" stroke="#000" stroke-width="1.667">Ura  2016</text>
<text class="b" transform="translate(350.43,276.30) scale(0.11700,0.13200)" style="font-size:50px" fill="#000" stroke="#000" stroke-width="1.667">Nishikawa_d 2016</text>
<text class="b" transform="translate(336.78,282.20) scale(0.11700,0.13200)" style="font-size:50px" fill="#000" stroke="#000" stroke-width="1.667">Nishikawa_c HCV 2016</text>
<text class="b" transform="translate(336.78,288.10) scale(0.11700,0.13200)" style="font-size:50px" fill="#000" stroke="#000" stroke-width="1.667">Nishikawa_c HBV 2016</text>
<text class="b" transform="translate(372.54,294.00) scale(0.11700,0.13200)" style="font-size:50px" fill="#000" stroke="#000" stroke-width="1.667">Ishii  2016</text>
<text class="b" transform="translate(361.48,299.90) scale(0.11700,0.13200)" style="font-size:50px" fill="#000" stroke="#000" stroke-width="1.667">Ichikawa 2016</text>
<text class="b" transform="translate(373.20,305.80) scale(0.11700,0.13200)" style="font-size:50px" fill="#000" stroke="#000" stroke-width="1.667">Heo  2016</text>
<text class="b" transform="translate(358.84,311.70) scale(0.11700,0.13200)" style="font-size:50px" fill="#000" stroke="#000" stroke-width="1.667">Umemura 2015</text>
<text class="b" transform="translate(360.14,317.60) scale(0.11700,0.13200)" style="font-size:50px" fill="#000" stroke="#000" stroke-width="1.667">Toshima  2015</text>
<text class="b" transform="translate(373.15,323.50) scale(0.11700,0.13200)" style="font-size:50px" fill="#000" stroke="#000" stroke-width="1.667">Abe  2015</text>
<text class="b" transform="translate(369.30,329.40) scale(0.11700,0.13200)" style="font-size:50px" fill="#000" stroke="#000" stroke-width="1.667">Kuno  2013</text>
<text class="b" transform="translate(368.70,341.20) scale(0.11700,0.13200)" style="font-size:50px" fill="#000" stroke="#000" stroke-width="1.667">COMBINED</text>
<text class="b" transform="translate(577.03,205.50) scale(0.12141,0.13200)" style="font-size:50px" fill="#000" stroke="#000" stroke-width="1.667">SPECIFICITY (95% CI)</text>
<text class="b" transform="translate(576.96,217.30) scale(0.12000,0.12800)" style="font-size:50px" fill="#000" stroke="#000" stroke-width="1.719">0.81 [0.70 - 0.89]</text>
<text class="b" transform="translate(576.82,223.20) scale(0.12000,0.12800)" style="font-size:50px" fill="#000" stroke="#000" stroke-width="1.719">1.00 [0.79 - 1.00]</text>
<text class="b" transform="translate(576.96,229.10) scale(0.12000,0.12800)" style="font-size:50px" fill="#000" stroke="#000" stroke-width="1.719">0.82 [0.72 - 0.90]</text>
<text class="b" transform="translate(576.96,235.00) scale(0.12000,0.12800)" style="font-size:50px" fill="#000" stroke="#000" stroke-width="1.719">0.47 [0.41 - 0.53]</text>
<text class="b" transform="translate(576.96,240.90) scale(0.12000,0.12800)" style="font-size:50px" fill="#000" stroke="#000" stroke-width="1.719">0.50 [0.32 - 0.68]</text>
<text class="b" transform="translate(576.96,246.80) scale(0.12000,0.12800)" style="font-size:50px" fill="#000" stroke="#000" stroke-width="1.719">0.75 [0.68 - 0.82]</text>
<text class="b" transform="translate(576.96,252.70) scale(0.12000,0.12800)" style="font-size:50px" fill="#000" stroke="#000" stroke-width="1.719">0.53 [0.42 - 0.64]</text>
<text class="b" transform="translate(576.96,258.60) scale(0.12000,0.12800)" style="font-size:50px" fill="#000" stroke="#000" stroke-width="1.719">0.82 [0.66 - 0.92]</text>
<text class="b" transform="translate(576.96,264.50) scale(0.12000,0.12800)" style="font-size:50px" fill="#000" stroke="#000" stroke-width="1.719">0.80 [0.72 - 0.86]</text>
<text class="b" transform="translate(576.96,270.40) scale(0.12000,0.12800)" style="font-size:50px" fill="#000" stroke="#000" stroke-width="1.719">0.74 [0.63 - 0.82]</text>
<text class="b" transform="translate(576.96,276.30) scale(0.12000,0.12800)" style="font-size:50px" fill="#000" stroke="#000" stroke-width="1.719">0.79 [0.59 - 0.92]</text>
<text class="b" transform="translate(576.96,282.20) scale(0.12000,0.12800)" style="font-size:50px" fill="#000" stroke="#000" stroke-width="1.719">0.88 [0.81 - 0.94]</text>
<text class="b" transform="translate(576.96,288.10) scale(0.12000,0.12800)" style="font-size:50px" fill="#000" stroke="#000" stroke-width="1.719">0.75 [0.67 - 0.82]</text>
<text class="b" transform="translate(576.96,294.00) scale(0.12000,0.12800)" style="font-size:50px" fill="#000" stroke="#000" stroke-width="1.719">0.74 [0.65 - 0.82]</text>
<text class="b" transform="translate(576.96,299.90) scale(0.12000,0.12800)" style="font-size:50px" fill="#000" stroke="#000" stroke-width="1.719">0.73 [0.56 - 0.85]</text>
<text class="b" transform="translate(576.96,305.80) scale(0.12000,0.12800)" style="font-size:50px" fill="#000" stroke="#000" stroke-width="1.719">0.44 [0.20 - 0.70]</text>
<text class="b" transform="translate(576.96,311.70) scale(0.12000,0.12800)" style="font-size:50px" fill="#000" stroke="#000" stroke-width="1.719">0.93 [0.85 - 0.97]</text>
<text class="b" transform="translate(576.96,317.60) scale(0.12000,0.12800)" style="font-size:50px" fill="#000" stroke="#000" stroke-width="1.719">0.74 [0.66 - 0.82]</text>
<text class="b" transform="translate(576.96,323.50) scale(0.12000,0.12800)" style="font-size:50px" fill="#000" stroke="#000" stroke-width="1.719">0.81 [0.74 - 0.87]</text>
<text class="b" transform="translate(576.96,329.40) scale(0.12000,0.12800)" style="font-size:50px" fill="#000" stroke="#000" stroke-width="1.719">0.67 [0.54 - 0.78]</text>
<text class="b" transform="translate(578.06,341.20) scale(0.12000,0.12800)" style="font-size:50px" fill="#000" stroke="#000" stroke-width="1.719">0.75[0.69 - 0.81]</text>
<text class="b" transform="translate(576.95,347.10) scale(0.12000,0.12800)" style="font-size:50px" fill="#000" stroke="#000" stroke-width="1.719">Q =183.97, df = 19.00, p =  0.00</text>
<text class="b" transform="translate(576.80,353.00) scale(0.12000,0.12800)" style="font-size:50px" fill="#000" stroke="#000" stroke-width="1.719">I2 = 89.67 [86.16 - 93.18]</text>
</svg>
</body></html>
